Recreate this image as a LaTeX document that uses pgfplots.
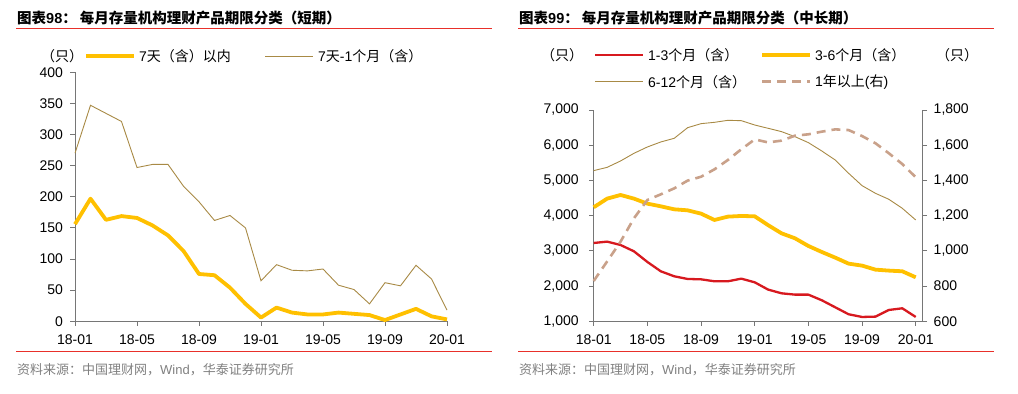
\documentclass[border=0pt]{standalone}
\usepackage{fontspec}
\setmainfont{Liberation Sans}
\newfontfamily\cjk{Noto Sans CJK SC}
\usepackage{pgfplots}
\pgfplotsset{compat=1.18}
\definecolor{hred}{HTML}{D7191F}
\definecolor{hyel}{HTML}{FFC000}
\definecolor{holive}{HTML}{A88A45}
\definecolor{htan}{HTML}{C9A18A}
\definecolor{haxis}{HTML}{767676}
\definecolor{hsrc}{HTML}{808080}
\definecolor{hline}{HTML}{E8302A}
\newcommand{\fs}[1]{\fontsize{#1bp}{#1bp}\selectfont}
\pgfplotsset{
 hstyle/.style={
  scale only axis,
  axis line style={haxis, line width=0.9bp},
  tick style={haxis, line width=0.9bp},
  tick align=outside,
  major tick length=4.5bp,
  ticklabel style={font=\fs{14}, text=black},
  xticklabel style={yshift=-5bp},
  /pgf/number format/assume math mode=true,
  /pgf/number format/1000 sep={,},
  clip=false,
 }
}
\begin{document}
\begin{tikzpicture}
\useasboundingbox (0bp,0bp) rectangle (1018bp,394bp);
% ---------- titles and rules
\node[anchor=west, inner sep=0] at (17bp,376bp) {\fs{14.5}{\cjk\bfseries 图表}{\bfseries 98}{\cjk\bfseries ：\hspace{3bp}每月存量机构理财产品期限分类（短期）}};
\node[anchor=west, inner sep=0] at (519bp,376bp) {\fs{14.5}{\cjk\bfseries 图表}{\bfseries 99}{\cjk\bfseries ：\hspace{3bp}每月存量机构理财产品期限分类（中长期）}};
\draw[hline, line width=1bp] (16bp,365bp) -- (492bp,365bp);
\draw[hline, line width=1bp] (518bp,365bp) -- (994bp,365bp);
\draw[hline, line width=1bp] (16bp,42bp) -- (492bp,42bp);
\draw[hline, line width=1bp] (518bp,42bp) -- (994bp,42bp);
\node[anchor=west, inner sep=0, text=hsrc] at (17bp,24bp) {\fs{13}\cjk 资料来源：中国理财网，{\rmfamily Wind}，华泰证券研究所};
\node[anchor=west, inner sep=0, text=hsrc] at (519bp,24bp) {\fs{13}\cjk 资料来源：中国理财网，{\rmfamily Wind}，华泰证券研究所};
% ---------- left legend
\node[inner sep=0] at (62bp,338bp) {\fs{14}\cjk （只）};
\draw[hyel, line width=3.8bp] (86bp,338bp) -- (134bp,338bp);
\node[anchor=west, inner sep=0] at (139bp,338bp) {\fs{14}7{\cjk 天（含）以内}};
\draw[holive, line width=0.9bp] (265bp,338bp) -- (313bp,338bp);
\node[anchor=west, inner sep=0] at (318bp,338bp) {\fs{14}7{\cjk 天}-1{\cjk 个月（含）}};
% ---------- right legend
\node[inner sep=0] at (562bp,339bp) {\fs{14}\cjk （只）};
\node[inner sep=0] at (957bp,339bp) {\fs{14}\cjk （只）};
\draw[hred, line width=2.3bp] (595bp,339bp) -- (643bp,339bp);
\node[anchor=west, inner sep=0] at (648bp,339bp) {\fs{14}1-3{\cjk 个月（含）}};
\draw[hyel, line width=3.8bp] (762bp,339bp) -- (810bp,339bp);
\node[anchor=west, inner sep=0] at (815bp,339bp) {\fs{14}3-6{\cjk 个月（含）}};
\draw[holive, line width=0.9bp] (595bp,312.3bp) -- (643bp,312.3bp);
\node[anchor=west, inner sep=0] at (648bp,312.3bp) {\fs{14}6-12{\cjk 个月（含）}};
\draw[htan, line width=2.6bp, dash pattern=on 9bp off 6bp] (762bp,312.3bp) -- (810bp,312.3bp);
\node[anchor=west, inner sep=0] at (815bp,312.3bp) {\fs{14}1{\cjk 年以上}({\cjk 右})};
% ---------- left chart
\begin{axis}[hstyle, at={(75bp,72.7bp)}, anchor=south west, width=372bp, height=249bp,
  xmin=0, xmax=24, ymin=0, ymax=400,
  axis x line*=bottom, axis y line*=left,
  yticklabel style={xshift=-4bp},
  xtick={0,4,...,24}, xticklabels={18-01,18-05,18-09,19-01,19-05,19-09,20-01},
  ytick={0,50,...,400}]
\addplot[holive, line width=0.9bp] coordinates {
(0,270) (1,347) (2,334) (3,321) (4,247) (5,252) (6,252) (7,217) (8,192) (9,162)
(10,170) (11,150) (12,65) (13,91) (14,82) (15,81) (16,84) (17,58) (18,51) (19,28)
(20,62) (21,57) (22,90) (23,68) (24,18)};
\addplot[hyel, line width=3.8bp, line join=round] coordinates {
(0,156) (1,197) (2,163) (3,169) (4,166) (5,154) (6,138) (7,113) (8,76) (9,74)
(10,54) (11,28) (12,6) (13,22) (14,14) (15,11) (16,11) (17,14) (18,12) (19,10)
(20,2) (21,11) (22,20) (23,8) (24,3)};
\end{axis}
% ---------- right chart, left axis
\begin{axis}[hstyle, at={(593.7bp,72.7bp)}, anchor=south west, width=329bp, height=211.3bp,
  xmin=0, xmax=24.52, ymin=1000, ymax=7000,
  axis x line*=bottom, axis y line*=left,
  yticklabel style={xshift=-7bp},
  xtick={0,4,...,24}, xticklabels={18-01,18-05,18-09,19-01,19-05,19-09,20-01},
  ytick={1000,2000,...,7000}]
\addplot[holive, line width=0.9bp] coordinates {
(0,5278) (1,5372) (2,5552) (3,5770) (4,5950) (5,6092) (6,6196) (7,6498) (8,6612) (9,6650)
(10,6707) (11,6697) (12,6574) (13,6480) (14,6385) (15,6243) (16,6073) (17,5836) (18,5580) (19,5202)
(20,4852) (21,4634) (22,4464) (23,4208) (24,3877)};
\addplot[hyel, line width=3.8bp, line join=round] coordinates {
(0,4237) (1,4483) (2,4587) (3,4483) (4,4341) (5,4265) (6,4180) (7,4151) (8,4057) (9,3877)
(10,3972) (11,3991) (12,3981) (13,3730) (14,3498) (15,3357) (16,3139) (17,2968) (18,2808) (19,2637)
(20,2581) (21,2467) (22,2439) (23,2420) (24,2249)};
\addplot[hred, line width=2.3bp, line join=round] coordinates {
(0,3224) (1,3262) (2,3167) (3,2987) (4,2685) (5,2420) (6,2278) (7,2202) (8,2192) (9,2136)
(10,2136) (11,2211) (12,2107) (13,1900) (14,1795) (15,1757) (16,1757) (17,1597) (18,1398) (19,1199)
(20,1123) (21,1133) (22,1322) (23,1369) (24,1123)};
\end{axis}
% ---------- right chart, right axis
\begin{axis}[hstyle, at={(593.7bp,72.7bp)}, anchor=south west, width=329bp, height=211.3bp,
  xmin=0, xmax=24.52, ymin=600, ymax=1800,
  axis x line=none, axis y line*=right,
  yticklabel style={xshift=3bp},
  ytick={600,800,...,1800}]
\addplot[htan, line width=2.6bp, dash pattern=on 9bp off 6bp] coordinates {
(0,829) (1,940) (2,1052) (3,1185) (4,1289) (5,1321) (6,1355) (7,1399) (8,1421) (9,1463)
(10,1516) (11,1577) (12,1633) (13,1616) (14,1626) (15,1654) (16,1662) (17,1677) (18,1690) (19,1686)
(20,1652) (21,1611) (22,1554) (23,1493) (24,1418)};
\end{axis}
\end{tikzpicture}
\end{document}
